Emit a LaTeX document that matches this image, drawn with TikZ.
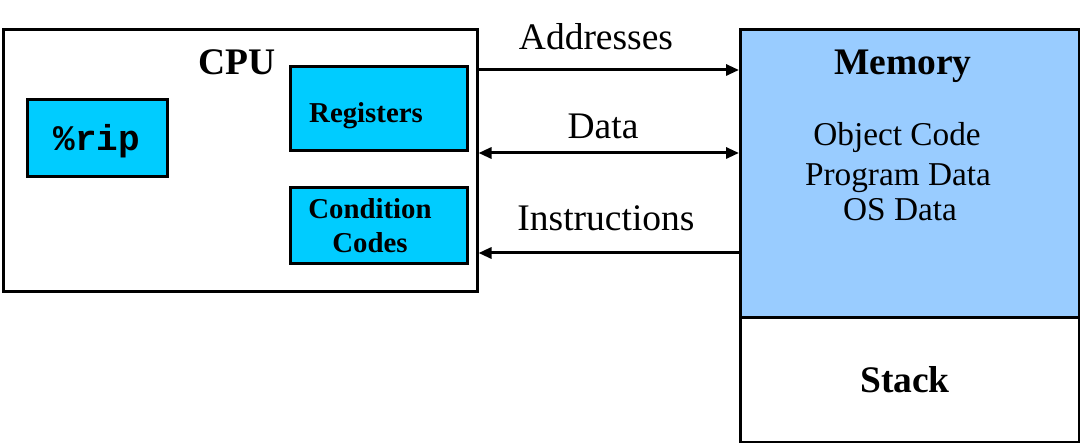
\documentclass[tikz,border=0pt]{standalone}
\usepackage{fontspec}
\setmainfont{Liberation Serif}
\setmonofont{Liberation Mono}
\usetikzlibrary{arrows.meta}
\definecolor{regcyan}{HTML}{00CCFF}
\definecolor{memblue}{HTML}{99CCFF}
\begin{document}
\begin{tikzpicture}[x=1pt,y=-1pt,
  box/.style={draw=black, line width=3pt, rectangle, anchor=north west, inner sep=0pt},
  regbox/.style={box, fill=regcyan},
  lbl/.style={anchor=base, inner sep=0pt},
  head/.style={lbl, font=\fontsize{37.5}{40}\selectfont\bfseries},
  small/.style={lbl, font=\fontsize{28.8}{30}\selectfont\bfseries},
  plain/.style={lbl, font=\fontsize{37.5}{40}\selectfont},
  memtxt/.style={lbl, font=\fontsize{33.3}{36}\selectfont},
  conn/.style={line width=3pt},
  >={Triangle[length=13pt,width=11pt]}
]
\useasboundingbox (0,0) rectangle (1080,443);
% boxes
\node[box, minimum width=474pt, minimum height=262pt] (cpu) at (1.5,28) {};
\node[regbox, minimum width=177pt, minimum height=84pt] (reg) at (289,65) {};
\node[regbox, minimum width=140pt, minimum height=77pt] (rip) at (26,98) {};
\node[regbox, minimum width=177pt, minimum height=76pt] (cc) at (289,186) {};
\node[box, fill=memblue, minimum width=339pt, minimum height=288pt] (mem) at (739,28) {};
\node[box, fill=white, minimum width=339pt, minimum height=125pt] (stack) at (739,316) {};
% labels
\node[head] (cpulbl) at (237,75) {CPU};
\node[small] (reglbl) at (366,123) {Registers};
\node[small] (cc1) at (370,219) {Condition};
\node[small] (cc2) at (370,253) {Codes};
\node[lbl, font=\fontsize{36}{40}\selectfont\ttfamily\bfseries] (riplbl) at (97,151) {\%rip};
\node[head] (memlbl) at (903,75) {Memory};
\node[memtxt] (m1) at (897,146) {Object Code};
\node[memtxt] (m2) at (898,186) {Program Data};
\node[memtxt] (m3) at (900,221) {OS Data};
\node[head] (stacklbl) at (905,393) {Stack};
\node[plain] (addr) at (596,50) {Addresses};
\node[plain] (data) at (603,139) {Data};
\node[plain] (instr) at (606,231) {Instructions};
% connectors
\draw[conn, ->] (cpu.east |- 0,70) -- (mem.west |- 0,70);
\draw[conn, <->] (cpu.east |- 0,153) -- (mem.west |- 0,153);
\draw[conn, ->] (mem.west |- 0,253) -- (cpu.east |- 0,253);
\end{tikzpicture}
\end{document}
